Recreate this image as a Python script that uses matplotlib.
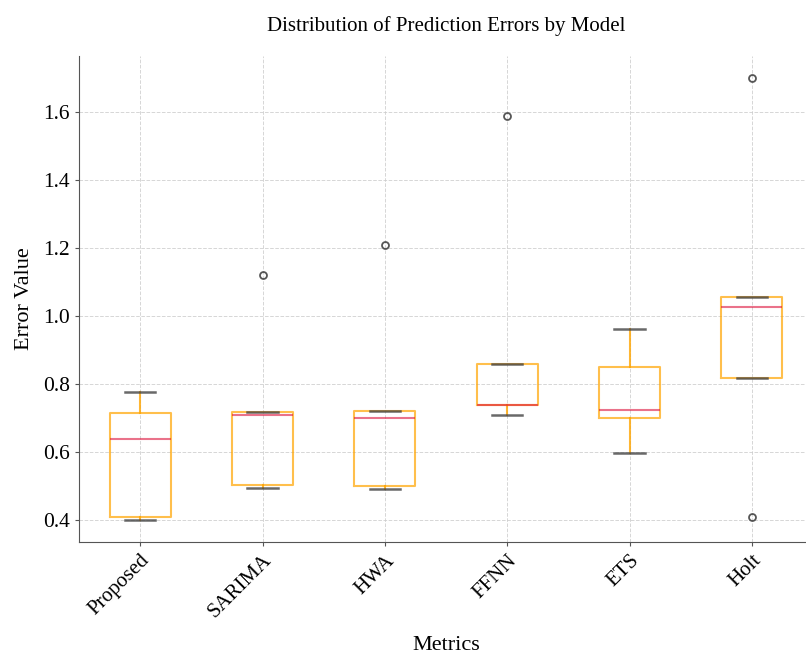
import matplotlib.pyplot as plt

# values (5 points per model)
models = ["Proposed", "SARIMA", "HWA", "FFNN", "ETS", "Holt"]
proposed = [0.400, 0.410, 0.639, 0.715, 0.776]
sarima = [0.494, 0.504, 0.709, 0.718, 1.120]
hwa = [0.491, 0.501, 0.700, 0.721, 1.209]
ffnn = [0.709, 0.737, 0.738, 0.859, 1.589]
ets = [0.597, 0.701, 0.724, 0.850, 0.962]
holt = [0.410, 0.818, 1.026, 1.056, 1.700]
yticks = [0.4, 0.6, 0.8, 1.0, 1.2, 1.4, 1.6]

plt.rcParams['font.family'] = ['Liberation Serif', 'DejaVu Serif']

fig = plt.figure(figsize=(8.06, 6.55), dpi=100)
ax = fig.add_axes([79 / 806, 113 / 655, 734 / 806, 486 / 655])

data = [proposed, sarima, hwa, ffnn, ets, holt]
ax.boxplot(
    data,
    widths=0.5,
    boxprops=dict(color='orange', linewidth=1.5, alpha=0.7),
    whiskerprops=dict(color='orange', linewidth=1.5, alpha=0.8),
    capprops=dict(color='#444444', linewidth=1.8, alpha=0.8),
    medianprops=dict(color='crimson', linewidth=1.5, alpha=0.6),
    flierprops=dict(marker='o', markerfacecolor='none', markeredgecolor='#444444',
                    markersize=5, markeredgewidth=1.3, alpha=0.9),
)

ax.set_xticks(range(1, len(models) + 1))
ax.set_xticklabels(models, rotation=45, ha='right', rotation_mode='anchor', fontsize=15)
ax.set_yticks(yticks)
ax.set_yticklabels([f"{t:.1f}" for t in yticks], fontsize=15.5)
ax.set_xlim(0.5, 6.5)
ax.set_ylim(0.335, 1.765)

ax.grid(True, linestyle='--', color='#cccccc', linewidth=0.7, alpha=0.8)
ax.set_axisbelow(True)
for side in ['top', 'right']:
    ax.spines[side].set_visible(False)
for side in ['left', 'bottom']:
    ax.spines[side].set_color('#555555')
ax.tick_params(colors='#555555', labelcolor='black', length=3)

ax.set_title("Distribution of Prediction Errors by Model", fontsize=15, y=1.062, pad=0, va='center')
ax.set_xlabel("Metrics", fontsize=16)
ax.xaxis.set_label_coords(0.5, -0.212)
ax.xaxis.label.set_va('center')
ax.set_ylabel("Error Value", fontsize=16)
ax.yaxis.set_label_coords(-0.0745, 0.5)
ax.yaxis.label.set_va('center')

fig.savefig("out.png", dpi=100)
